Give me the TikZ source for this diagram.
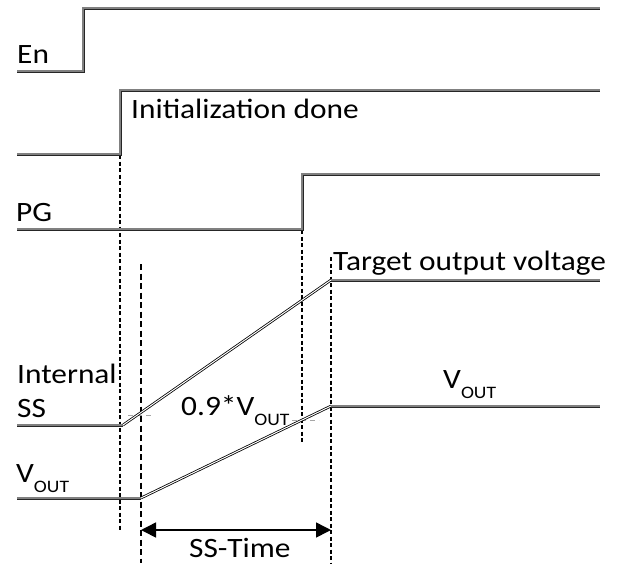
\documentclass[tikz,border=0pt]{standalone}
\usepackage{fontspec}
\setmainfont{Carlito}[FakeStretch=1.12]
\usetikzlibrary{arrows.meta}
\tikzset{
  sig/.style={draw=black!85, line width=0.9pt, double=black!50, double distance=1.2pt, line join=miter},
  ramp/.style={draw=black, line width=0.8pt, double=white, double distance=1pt},
  vguide/.style={draw=black, line width=1.4pt, dash pattern=on 4pt off 2.5pt},
  vguidel/.style={draw=black, line width=1.2pt, dash pattern=on 6pt off 3.5pt},
  hguide/.style={draw=gray!70, line width=0.8pt, dash pattern=on 5pt off 4pt},
  lbl/.style={anchor=base west, inner sep=0pt, font=\fontsize{28}{30}\selectfont},
  dimarrow/.style={draw=black, line width=1.5pt, {Triangle[length=15pt,width=15pt]}-{Triangle[length=15pt,width=15pt]}}
}
\newcommand{\subout}{\raisebox{-10pt}{\fontsize{17.5}{18}\selectfont OUT}}
\begin{document}
\begin{tikzpicture}[x=1pt,y=-1pt]
\useasboundingbox (0,0) rectangle (617,563);
% coordinates
\coordinate (en0) at (17,71);
\coordinate (en1) at (83,71);
\coordinate (en2) at (83,8);
\coordinate (en3) at (600,8);
\coordinate (in0) at (17,154);
\coordinate (in1) at (120,154);
\coordinate (in2) at (120,90);
\coordinate (in3) at (600,90);
\coordinate (pg0) at (17,229);
\coordinate (pg1) at (302,229);
\coordinate (pg2) at (302,174);
\coordinate (pg3) at (600,174);
\coordinate (ss0) at (17,425);
\coordinate (ss1) at (123,425);
\coordinate (ss2) at (331,280);
\coordinate (ss3) at (600,280);
\coordinate (vo0) at (17,498);
\coordinate (vo1) at (141,498);
\coordinate (vo2) at (331,406);
\coordinate (vo3) at (600,406);
% guides
\coordinate (g1a) at (120,155); \coordinate (g1b) at (120,530);
\coordinate (g2a) at (141,264); \coordinate (g2b) at (141,563);
\coordinate (g3a) at (302,230); \coordinate (g3b) at (302,444);
\coordinate (g4a) at (331,257); \coordinate (g4b) at (331,563);
\coordinate (h1a) at (128,415); \coordinate (h1b) at (154,415);
\coordinate (h2a) at (292,420); \coordinate (h2b) at (319,420);
\coordinate (aL) at (141,530); \coordinate (aR) at (331,530);
\draw[vguide] (g1a) -- (g1b);
\draw[vguidel] (g2a) -- (g2b);
\draw[vguide] (g3a) -- (g3b);
\draw[vguide] (g4a) -- (g4b);
\draw[hguide] (h1a) -- (h1b);
\draw[hguide] (h2a) -- (h2b);
% signals
\draw[sig] (en0) -- (en1) -- (en2) -- (en3);
\draw[sig] (in0) -- (in1) -- (in2) -- (in3);
\draw[sig] (pg0) -- (pg1) -- (pg2) -- (pg3);
\draw[sig] (ss0) -- (ss1);
\draw[ramp] (ss1) -- (ss2);
\draw[sig] (ss2) -- (ss3);
\draw[sig] (vo0) -- (vo1);
\draw[ramp] (vo1) -- (vo2);
\draw[sig] (vo2) -- (vo3);
% arrow
\draw[dimarrow] (aL) -- (aR);
% labels
\node[lbl] (len) at (17,63) {En};
\node[lbl] (linit) at (131,118) {Initialization done};
\node[lbl] (lpg) at (16,221) {PG};
\node[lbl] (ltarget) at (333,270) {Target output voltage};
\node[lbl] (lint) at (17,383) {Internal};
\node[lbl] (lss) at (17,417) {SS};
\node[lbl] (l09) at (181,415) {0.9*V\subout};
\node[lbl] (lvr) at (443,388) {V\subout};
\node[lbl] (lvl) at (16,482) {V\subout};
\node[lbl] (lsst) at (189,557) {SS-Time};
\end{tikzpicture}
\end{document}
